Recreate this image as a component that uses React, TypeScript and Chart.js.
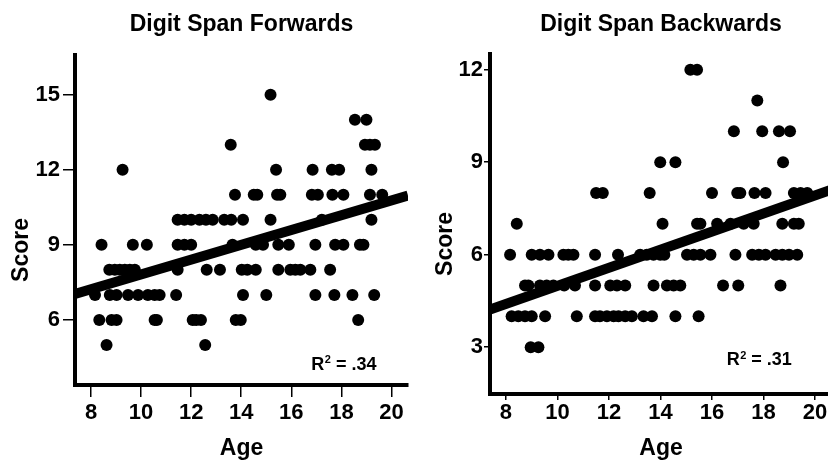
import React, { useEffect, useRef } from 'react';
import { Chart, registerables } from 'chart.js';

Chart.register(...registerables);

const FONT = '"Liberation Sans", Arial, Helvetica, sans-serif';

// ---------- Digit Span Forwards ----------
const fwdTitle = 'Digit Span Forwards';
const fwdAge = [
  8.62, 12.56,
  8.33, 8.82, 9.02, 10.54, 10.63, 12.06, 12.2, 12.39, 13.78, 13.98, 18.67,
  8.16, 8.75, 9.02, 9.48, 9.88, 10.27, 10.54, 10.74, 11.4, 14.07, 15.0, 16.96, 17.72, 18.44, 19.31,
  8.73, 8.95, 9.15, 9.35, 9.55, 9.75, 11.46, 12.62, 13.15, 14.02, 14.24, 14.58, 15.48, 15.96, 16.16, 16.36, 16.76, 17.55,
  8.42, 9.67, 10.23, 11.46, 11.73, 12.0, 13.65, 14.58, 14.87, 15.48, 15.9, 16.96, 17.75, 18.08, 18.74, 18.88,
  11.46, 11.73, 12.0, 12.33, 12.59, 12.86, 13.32, 13.6, 14.07, 15.17, 17.22, 19.2,
  13.75, 14.5, 14.64, 15.43, 15.56, 16.82, 17.06, 17.64, 18.08, 19.14, 19.63,
  9.26, 15.39, 16.85, 17.62, 17.91, 19.2,
  13.58, 18.94, 19.14, 19.34,
  18.54, 19.0,
  15.17,
];
const fwdScore = [
  5, 5,
  6, 6, 6, 6, 6, 6, 6, 6, 6, 6, 6,
  7, 7, 7, 7, 7, 7, 7, 7, 7, 7, 7, 7, 7, 7, 7,
  8, 8, 8, 8, 8, 8, 8, 8, 8, 8, 8, 8, 8, 8, 8, 8, 8, 8,
  9, 9, 9, 9, 9, 9, 9, 9, 9, 9, 9, 9, 9, 9, 9, 9,
  10, 10, 10, 10, 10, 10, 10, 10, 10, 10, 10, 10,
  11, 11, 11, 11, 11, 11, 11, 11, 11, 11, 11,
  12, 12, 12, 12, 12, 12,
  13, 13, 13, 13,
  14, 14,
  15,
];
const fwdFitAge = [7.36, 20.66];
const fwdFitScore = [7.04, 10.97];
const fwdR2 = '.34';
const fwdAgeRange = [7.36, 20.66];
const fwdScoreRange = [3.4, 16.6];
const fwdYTicks = [6, 9, 12, 15];

// ---------- Digit Span Backwards ----------
const bwdTitle = 'Digit Span Backwards';
const bwdAge = [
  8.96, 9.26,
  8.22, 8.48, 8.74, 9.0, 9.52, 10.75, 11.46, 11.65, 11.92, 12.18, 12.37, 12.63, 12.89, 13.34, 13.67, 14.58, 15.48,
  8.74, 8.87, 9.32, 9.58, 9.84, 10.26, 10.68, 11.46, 12.05, 12.31, 12.63, 13.73, 14.25, 14.51, 14.77, 16.43, 17.02, 18.66,
  8.16, 9.0, 9.32, 9.65, 10.23, 10.42, 10.62, 11.46, 12.35, 13.21, 13.47, 13.73, 13.99, 14.15, 15.03, 15.29, 15.55, 15.94, 16.91, 17.56, 17.82, 18.08, 18.47, 18.73, 18.99, 19.31,
  8.42, 14.08, 15.42, 15.55, 16.2, 16.72, 17.23, 17.62, 18.73, 19.18, 19.37,
  11.5, 11.76, 13.58, 16.0, 16.98, 17.1, 17.65, 18.08, 19.18, 19.44, 19.7,
  13.99, 14.58, 18.76,
  16.85, 17.95, 18.6, 19.03,
  17.76,
  15.16, 15.42,
];
const bwdScore = [
  3, 3,
  4, 4, 4, 4, 4, 4, 4, 4, 4, 4, 4, 4, 4, 4, 4, 4, 4,
  5, 5, 5, 5, 5, 5, 5, 5, 5, 5, 5, 5, 5, 5, 5, 5, 5, 5,
  6, 6, 6, 6, 6, 6, 6, 6, 6, 6, 6, 6, 6, 6, 6, 6, 6, 6, 6, 6, 6, 6, 6, 6, 6, 6,
  7, 7, 7, 7, 7, 7, 7, 7, 7, 7, 7,
  8, 8, 8, 8, 8, 8, 8, 8, 8, 8, 8,
  9, 9, 9,
  10, 10, 10, 10,
  11,
  12, 12,
];
const bwdFitAge = [7.38, 20.66];
const bwdFitScore = [4.22, 8.11];
const bwdR2 = '.31';
const bwdAgeRange = [7.38, 20.66];
const bwdScoreRange = [1.48, 12.52];
const bwdYTicks = [3, 6, 9, 12];

const ageTicks = [8, 10, 12, 14, 16, 18, 20];
const xTitle = 'Age';
const yTitle = 'Score';

const panelText = {
  id: 'panelText',
  afterDraw(chart: any, _args: any, opts: any) {
    const { ctx } = chart;
    const xs = chart.scales.x;
    const ys = chart.scales.y;
    ctx.save();
    ctx.fillStyle = '#000';
    // y axis title
    ctx.save();
    ctx.translate(opts.yTitleX, opts.yTitleY);
    ctx.rotate(-Math.PI / 2);
    ctx.font = `bold 23px ${FONT}`;
    ctx.textAlign = 'center';
    ctx.textBaseline = 'middle';
    ctx.fillText(yTitle, 0, 0);
    ctx.restore();
    // R squared label
    const px = xs.getPixelForValue(opts.r2Age);
    const py = ys.getPixelForValue(opts.r2Score);
    ctx.textAlign = 'left';
    ctx.textBaseline = 'alphabetic';
    ctx.font = `bold 18px ${FONT}`;
    ctx.fillText('R', px, py);
    const w1 = ctx.measureText('R').width;
    ctx.font = `bold 11px ${FONT}`;
    ctx.fillText('2', px + w1 + 0.5, py - 6.5);
    const w2 = ctx.measureText('2').width;
    ctx.font = `bold 18px ${FONT}`;
    ctx.fillText(' = ' + opts.r2, px + w1 + w2 + 0.5, py);
    ctx.restore();
  },
};

type PanelProps = {
  left: number;
  width: number;
  title: string;
  ages: number[];
  scores: number[];
  fitAge: number[];
  fitScore: number[];
  ageRange: number[];
  scoreRange: number[];
  yTicks: number[];
  r2: string;
  r2Age: number;
  r2Score: number;
  yAxisWidth: number;
  xAxisHeight: number;
  padRight: number;
  titleTop: number;
  titleBottom: number;
  yTickLen: number;
  yTickPad: number;
  xTickLen: number;
  xTickPad: number;
  yTitleX: number;
  yTitleY: number;
};

function Panel(p: PanelProps) {
  const ref = useRef<HTMLCanvasElement | null>(null);
  useEffect(() => {
    if (!ref.current) return;
    const points = p.ages.map((a, i) => ({ x: a, y: p.scores[i] }));
    const fit = p.fitAge.map((a, i) => ({ x: a, y: p.fitScore[i] }));
    const tickFont = { family: FONT, size: 22, weight: 'bold' as const };
    const chart = new Chart(ref.current, {
      type: 'scatter',
      data: {
        datasets: [
          {
            type: 'scatter',
            data: points,
            pointRadius: 6,
            pointHoverRadius: 6,
            pointBackgroundColor: '#000',
            pointBorderWidth: 0,
            borderWidth: 0,
            backgroundColor: '#000',
          },
          {
            type: 'line',
            data: fit,
            showLine: true,
            borderColor: '#000',
            borderWidth: 10,
            pointRadius: 0,
            fill: false,
            clip: 0,
          } as any,
        ],
      },
      options: {
        responsive: false,
        animation: false,
        devicePixelRatio: 1,
        events: [],
        layout: { padding: { left: 0, right: p.padRight, top: 0, bottom: 0 } },
        plugins: {
          legend: { display: false },
          tooltip: { enabled: false },
          title: {
            display: true,
            text: p.title,
            color: '#000',
            fullSize: false,
            font: { family: FONT, size: 23, weight: 'bold', lineHeight: 1.2 },
            padding: { top: p.titleTop, bottom: p.titleBottom },
          },
          panelText: { r2: p.r2, r2Age: p.r2Age, r2Score: p.r2Score, yTitleX: p.yTitleX, yTitleY: p.yTitleY },
        } as any,
        scales: {
          x: {
            type: 'linear',
            min: p.ageRange[0],
            max: p.ageRange[1],
            afterBuildTicks: (s: any) => {
              s.ticks = ageTicks.map((v) => ({ value: v }));
            },
            afterFit: (s: any) => {
              s.height = p.xAxisHeight;
            },
            ticks: { color: '#000', font: tickFont, padding: p.xTickPad, maxRotation: 0, autoSkip: false },
            grid: { drawOnChartArea: false, drawTicks: true, tickLength: p.xTickLen, color: '#000', lineWidth: 1.5 },
            border: { display: true, color: '#000', width: 4 },
            title: {
              display: true,
              text: xTitle,
              color: '#000',
              font: { family: FONT, size: 23, weight: 'bold', lineHeight: 1 },
              padding: 0,
            },
          },
          y: {
            type: 'linear',
            min: p.scoreRange[0],
            max: p.scoreRange[1],
            afterBuildTicks: (s: any) => {
              s.ticks = p.yTicks.map((v) => ({ value: v }));
            },
            afterFit: (s: any) => {
              s.width = p.yAxisWidth;
            },
            ticks: { color: '#000', font: tickFont, padding: p.yTickPad, autoSkip: false },
            grid: { drawOnChartArea: false, drawTicks: true, tickLength: p.yTickLen, color: '#000', lineWidth: 1.5 },
            border: { display: true, color: '#000', width: 4 },
          },
        },
      } as any,
      plugins: [panelText],
    });
    return () => chart.destroy();
  }, []);
  return (
    <canvas
      ref={ref}
      width={p.width}
      height={460}
      style={{ position: 'absolute', left: p.left, top: 0, width: p.width, height: 460 }}
    />
  );
}

export default function App() {
  return (
    <div
      style={{
        position: 'fixed',
        left: 0,
        top: 0,
        width: 828,
        height: 460,
        overflow: 'hidden',
        background: '#fff',
      }}
    >
      <Panel
        left={0}
        width={414}
        title={fwdTitle}
        ages={fwdAge}
        scores={fwdScore}
        fitAge={fwdFitAge}
        fitScore={fwdFitScore}
        ageRange={fwdAgeRange}
        scoreRange={fwdScoreRange}
        yTicks={fwdYTicks}
        r2={fwdR2}
        r2Age={16.8}
        r2Score={4.0}
        yAxisWidth={75}
        xAxisHeight={75}
        padRight={4}
        titleTop={11}
        titleBottom={16}
        yTickLen={12}
        yTickPad={3}
        xTickLen={12}
        xTickPad={3}
        yTitleX={22}
        yTitleY={250}
      />
      <Panel
        left={420}
        width={420}
        title={bwdTitle}
        ages={bwdAge}
        scores={bwdScore}
        fitAge={bwdFitAge}
        fitScore={bwdFitScore}
        ageRange={bwdAgeRange}
        scoreRange={bwdScoreRange}
        yTicks={bwdYTicks}
        r2={bwdR2}
        r2Age={16.57}
        r2Score={2.42}
        yAxisWidth={70}
        xAxisHeight={66}
        padRight={8}
        titleTop={11}
        titleBottom={15}
        yTickLen={6}
        yTickPad={1}
        xTickLen={6}
        xTickPad={0}
        yTitleX={26}
        yTitleY={244}
      />
    </div>
  );
}
